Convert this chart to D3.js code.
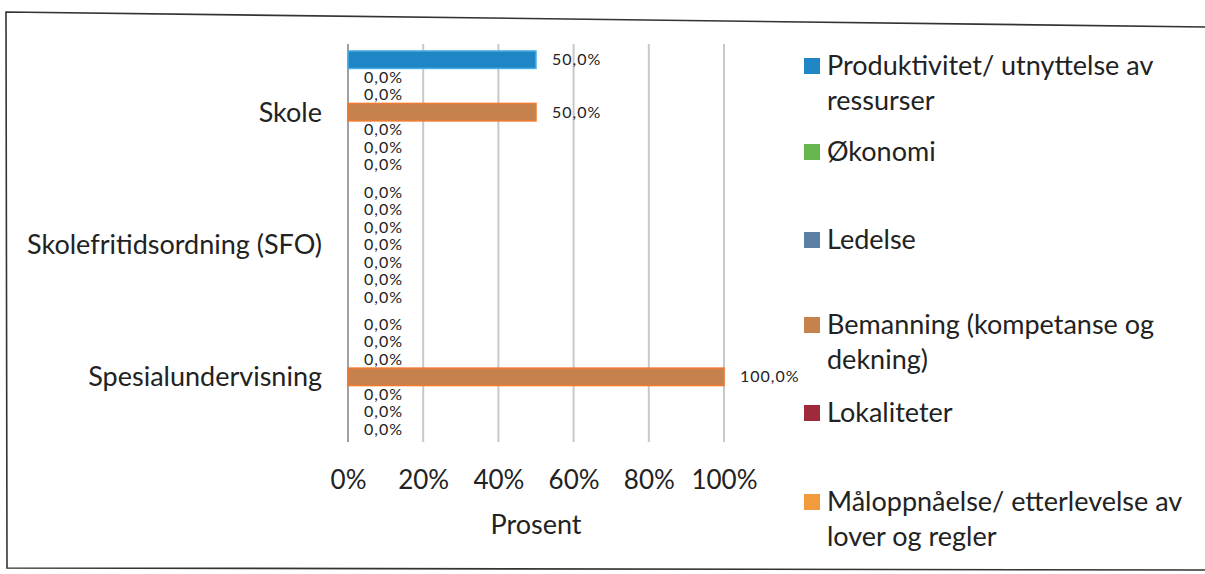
<!DOCTYPE html>
<html>
<head>
<meta charset="utf-8">
<script src="https://cdn.jsdelivr.net/npm/d3@7"></script>
<style>
  html, body { margin: 0; padding: 0; background: #fff; }
  svg { display: block; font-family: Lato, "Open Sans", sans-serif; }
</style>
</head>
<body>
<svg id="chart" width="1205" height="574"></svg>
<script>
// categories (top to bottom)
const categories = ["Skole", "Skolefritidsordning (SFO)", "Spesialundervisning"];

// series, in legend order (the 7th has no legend entry in the original)
const seriesNames = [
  "Produktivitet/ utnyttelse av ressurser",
  "Økonomi",
  "Ledelse",
  "Bemanning (kompetanse og dekning)",
  "Lokaliteter",
  "Måloppnåelse/ etterlevelse av lover og regler",
  ""
];
const seriesColors = ["#1f86c6", "#66b84e", "#5b7fa3", "#c5824c", "#9e2a3c", "#f29b3c", "#8c8c8c"];
const seriesStroke = ["#4aaee8", "#66b84e", "#5b7fa3", "#f07a30", "#9e2a3c", "#f29b3c", "#8c8c8c"];

// values in percent, one array per category, in series order
const skole = [50, 0, 0, 50, 0, 0, 0];
const sfo = [0, 0, 0, 0, 0, 0, 0];
const spesial = [0, 0, 0, 100, 0, 0, 0];
const values = [skole, sfo, spesial];

const xTicks = [0, 20, 40, 60, 80, 100];

// legend lines as shown (wrapped)
const legendLines = [
  ["Produktivitet/ utnyttelse av", "ressurser"],
  ["Økonomi"],
  ["Ledelse"],
  ["Bemanning (kompetanse og", "dekning)"],
  ["Lokaliteter"],
  ["Måloppnåelse/ etterlevelse av", "lover og regler"]
];

const svg = d3.select("#chart");

// scanned frame (slightly tilted top edge)
svg.append("path")
  .attr("d", "M1205,27 L6,12 L7,568 L1205,570")
  .attr("fill", "none")
  .attr("stroke", "#333")
  .attr("stroke-width", 1.6);

const x = d3.scaleLinear().domain([0, 100]).range([348, 724]);
const y0 = d3.scaleBand().domain(categories).range([46, 443]).paddingInner(0.075).paddingOuter(0.0375);
const y1 = d3.scaleBand().domain(d3.range(seriesNames.length)).range([0, y0.bandwidth()]).paddingInner(0.0);

const fmt = v => d3.format(".1f")(v).replace(".", ",") + "%";

// gridlines
svg.append("g")
  .selectAll("line")
  .data(xTicks)
  .join("line")
  .attr("x1", d => x(d)).attr("x2", d => x(d))
  .attr("y1", 44).attr("y2", 442)
  .attr("stroke", d => d === 0 ? "#a0a0a0" : "#c8c8c8")
  .attr("stroke-width", 2);

// x axis labels
const xAxis = d3.axisBottom(x).tickValues(xTicks).tickFormat(d => d + "%").tickSize(0).tickPadding(0);
const gx = svg.append("g").attr("transform", "translate(0,471)").call(xAxis);
gx.select(".domain").remove();
gx.selectAll("text")
  .attr("font-size", 26)
  .attr("fill", "#222")
  .attr("font-family", "Lato, sans-serif");

svg.append("text")
  .attr("x", (x(0) + x(100)) / 2)
  .attr("y", 534)
  .attr("text-anchor", "middle")
  .attr("font-size", 27)
  .attr("fill", "#222")
  .text("Prosent");

// category labels
svg.append("g")
  .selectAll("text")
  .data(categories)
  .join("text")
  .attr("x", 322)
  .attr("y", d => y0(d) + y0.bandwidth() / 2)
  .attr("dy", "0.35em")
  .attr("text-anchor", "end")
  .attr("font-size", 27)
  .attr("fill", "#222")
  .text(d => d);

// bars + labels
const groups = svg.append("g")
  .selectAll("g")
  .data(categories)
  .join("g")
  .attr("transform", d => `translate(0,${y0(d)})`);

groups.selectAll("rect")
  .data((d, i) => values[i].map((v, s) => ({ v, s })))
  .join("rect")
  .filter(d => d.v > 0)
  .attr("x", x(0))
  .attr("y", d => y1(d.s))
  .attr("width", d => x(d.v) - x(0))
  .attr("height", y1.bandwidth())
  .attr("fill", d => seriesColors[d.s])
  .attr("stroke", d => seriesStroke[d.s])
  .attr("stroke-width", 1.5);

groups.selectAll("text")
  .data((d, i) => values[i].map((v, s) => ({ v, s })))
  .join("text")
  .attr("x", d => x(d.v) + 16)
  .attr("y", d => y1(d.s) + y1.bandwidth() / 2)
  .attr("dy", "0.35em")
  .attr("font-size", 16)
  .attr("letter-spacing", 1)
  .attr("fill", "#222")
  .text(d => fmt(d.v));

// legend
const legendY = [66, 152, 240, 325, 413, 502];
const lg = svg.append("g")
  .selectAll("g")
  .data(legendLines)
  .join("g")
  .attr("transform", (d, i) => `translate(804,${legendY[i]})`);

lg.append("rect")
  .attr("x", 0).attr("y", -8)
  .attr("width", 16).attr("height", 16)
  .attr("fill", (d, i) => seriesColors[i]);

lg.selectAll("text")
  .data(d => d)
  .join("text")
  .attr("x", 23)
  .attr("y", (d, j) => 9 + j * 35)
  .attr("font-size", 27)
  .attr("fill", "#222")
  .text(d => d);
</script>
</body>
</html>
